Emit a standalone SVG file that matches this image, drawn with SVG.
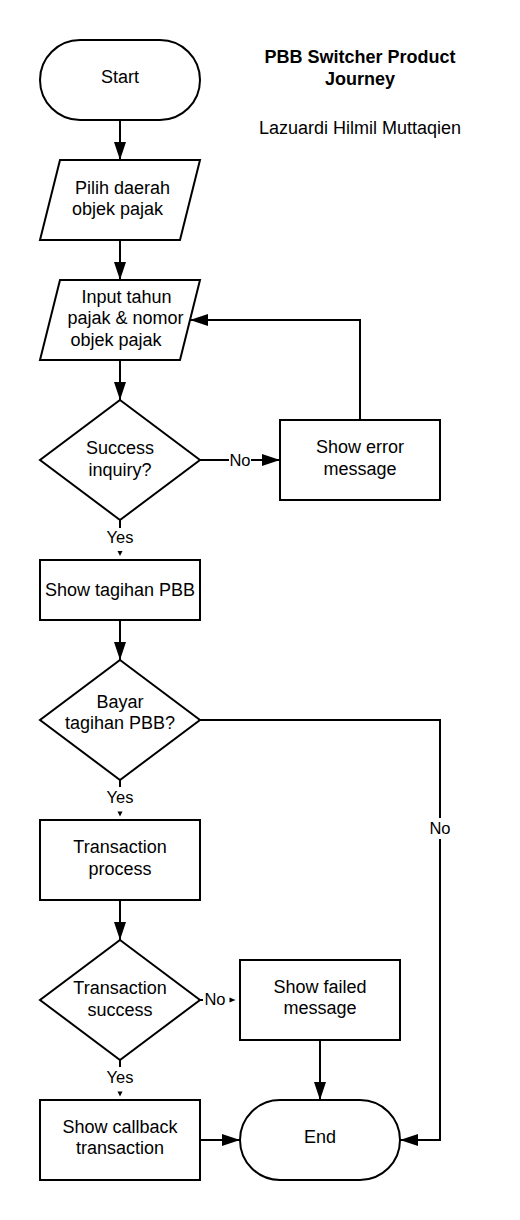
<svg xmlns="http://www.w3.org/2000/svg" width="520" height="1220" viewBox="0 0 520 1220">
<defs>
<style>
.shape{fill:#fff;stroke:#000;stroke-width:2}
.line{fill:none;stroke:#000;stroke-width:2}
.t{font-family:"Liberation Sans",Arial,sans-serif;font-size:18px;fill:#000;text-anchor:middle}
.lbl{font-size:16.5px}
.b{font-weight:bold}
.small{fill:#000;stroke:none}
</style>
<marker id="arr" markerUnits="userSpaceOnUse" markerWidth="18" markerHeight="12" refX="18" refY="6" orient="auto">
<path d="M0,0 L18,6 L0,12 z" fill="#000"/>
</marker>
</defs>
<rect width="520" height="1220" fill="#fff"/>

<g id="title">
<text class="t b" x="360" y="63">PBB Switcher Product</text>
<text class="t b" x="360" y="84.5">Journey</text>
<text class="t" x="360" y="134">Lazuardi Hilmil Muttaqien</text>
</g>

<g id="connectors">
<path class="line" d="M120,120 V160" marker-end="url(#arr)"/>
<path class="line" d="M120,240 V280" marker-end="url(#arr)"/>
<path class="line" d="M120,360 V400" marker-end="url(#arr)"/>
<path class="line" d="M200,460 H229"/>
<path class="line" d="M251,460 H280" marker-end="url(#arr)"/>
<text class="t lbl" x="240" y="466">No</text>
<path class="line" d="M360,420 V320 H190" marker-end="url(#arr)"/>
<path class="line" d="M120,520 V528"/>
<text class="t lbl" x="120" y="543">Yes</text>
<polygon class="small" points="117.5,551 122.5,551 120,556"/>
<path class="line" d="M120,620 V660" marker-end="url(#arr)"/>
<path class="line" d="M200,720 H440 V818"/>
<text class="t lbl" x="440" y="834">No</text>
<path class="line" d="M440,839 V1140 H400" marker-end="url(#arr)"/>
<path class="line" d="M120,780 V787"/>
<text class="t lbl" x="120" y="803">Yes</text>
<polygon class="small" points="117.5,811.5 122.5,811.5 120,816.5"/>
<path class="line" d="M120,900 V940" marker-end="url(#arr)"/>
<path class="line" d="M200,1000 H203"/>
<text class="t lbl" x="215" y="1005">No</text>
<polygon class="small" points="229.5,997.5 229.5,1002.5 235.5,1000"/>
<path class="line" d="M120,1060 V1067"/>
<text class="t lbl" x="120" y="1082.5">Yes</text>
<polygon class="small" points="117.5,1091.5 122.5,1091.5 120,1096.5"/>
<path class="line" d="M200,1140 H240" marker-end="url(#arr)"/>
<path class="line" d="M320,1040 V1100" marker-end="url(#arr)"/>
</g>

<g id="start">
<rect class="shape" x="40" y="40" width="160" height="80" rx="40" ry="40"/>
<text class="t" x="120" y="83">Start</text>
</g>

<g id="pilih-daerah">
<polygon class="shape" points="60,160 200,160 180,240 40,240"/>
<text class="t" x="122.5" y="193.5">Pilih daerah</text>
<text class="t" x="117.5" y="215">objek pajak</text>
</g>

<g id="input-tahun">
<polygon class="shape" points="60,280 200,280 180,360 40,360"/>
<text class="t" x="126.5" y="302.5">Input tahun</text>
<text class="t" x="125.5" y="324">pajak &amp; nomor</text>
<text class="t" x="116" y="345.5">objek pajak</text>
</g>

<g id="success-inquiry">
<polygon class="shape" points="120,400 200,460 120,520 40,460"/>
<text class="t" x="120" y="454">Success</text>
<text class="t" x="120" y="475.5">inquiry?</text>
</g>

<g id="show-error">
<rect class="shape" x="280" y="420" width="160" height="80"/>
<text class="t" x="360" y="453">Show error</text>
<text class="t" x="360" y="474.5">message</text>
</g>

<g id="show-tagihan">
<rect class="shape" x="40" y="560" width="160" height="60"/>
<text class="t" x="120" y="596">Show tagihan PBB</text>
</g>

<g id="bayar-tagihan">
<polygon class="shape" points="120,660 200,720 120,780 40,720"/>
<text class="t" x="120" y="707.5">Bayar</text>
<text class="t" x="120" y="729">tagihan PBB?</text>
</g>

<g id="transaction-process">
<rect class="shape" x="40" y="820" width="160" height="80"/>
<text class="t" x="120" y="853">Transaction</text>
<text class="t" x="120" y="874.5">process</text>
</g>

<g id="transaction-success">
<polygon class="shape" points="120,940 200,1000 120,1060 40,1000"/>
<text class="t" x="120" y="994">Transaction</text>
<text class="t" x="120" y="1015.5">success</text>
</g>

<g id="show-failed">
<rect class="shape" x="240" y="960" width="160" height="80"/>
<text class="t" x="320" y="992.5">Show failed</text>
<text class="t" x="320" y="1014">message</text>
</g>

<g id="show-callback">
<rect class="shape" x="40" y="1100" width="160" height="80"/>
<text class="t" x="120" y="1132.5">Show callback</text>
<text class="t" x="120" y="1154">transaction</text>
</g>

<g id="end">
<rect class="shape" x="240" y="1100" width="160" height="80" rx="40" ry="40"/>
<text class="t" x="320" y="1143">End</text>
</g>
</svg>
